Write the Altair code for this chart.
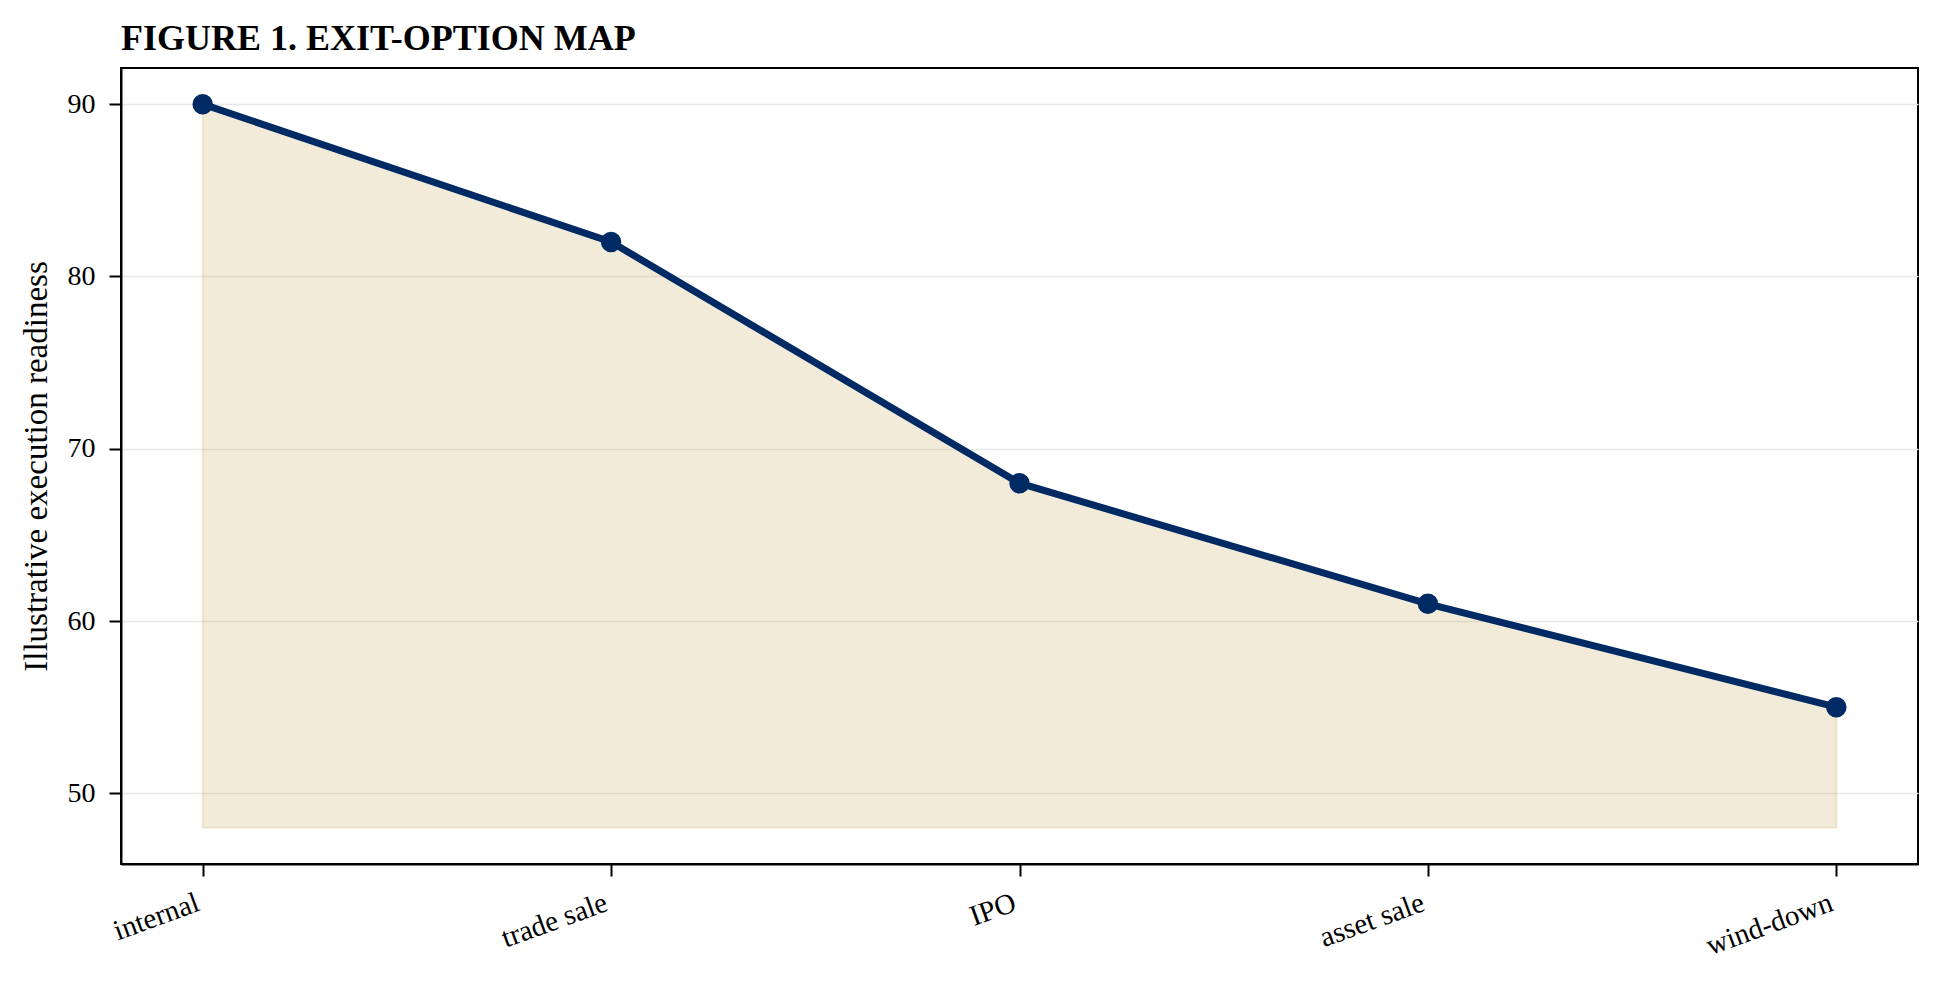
import altair as alt
import pandas as pd

# exit options and their illustrative readiness scores
categories = ["internal", "trade sale", "IPO", "asset sale", "wind-down"]
readiness = [90, 82, 68, 61, 55]
floor_value = 48
y_ticks = [50, 60, 70, 80, 90]

df = pd.DataFrame({
    "option": categories,
    "readiness": readiness,
    "floor": [floor_value] * len(categories),
})

navy = "#002A64"
sand = "#C39B46"
serif = "Liberation Serif"

x_enc = alt.X(
    "option:N",
    sort=categories,
    scale=alt.Scale(type="point", padding=0.2),
    axis=alt.Axis(
        title=None,
        labelAngle=340,
        labelAlign="right",
        labelBaseline="top",
        labelPadding=12,
        labelOffset=-10,
        labelFontSize=29,
        grid=False,
    ),
)
y_enc = alt.Y(
    "readiness:Q",
    scale=alt.Scale(domain=[45.9, 92.1], nice=False, zero=False),
    axis=alt.Axis(
        values=y_ticks,
        title="Illustrative execution readiness",
        titleFontSize=33,
        titleFontWeight="normal",
        titleAngle=270,
        titleAlign="center",
        titleBaseline="alphabetic",
        titleX=-75,
        titleY=398,
        labelPadding=14,
        grid=True,
    ),
)

base = alt.Chart(df)

# shaded band under the line
area = base.mark_area(
    color=sand, fillOpacity=0.2, stroke=sand, strokeOpacity=0.2, strokeWidth=2
).encode(x=x_enc, y=y_enc, y2="floor:Q")

line = base.mark_line(color=navy, strokeWidth=7).encode(x=x_enc, y=y_enc)

points = base.mark_circle(color=navy, size=420, opacity=1).encode(x=x_enc, y=y_enc)

chart = alt.layer(area, line, points).properties(
    width=1797,
    height=796,
    padding={"left": 113, "top": 60, "right": 8, "bottom": 100},
    autosize=alt.AutoSizeParams(type="none"),
    title=alt.Title(
        "FIGURE 1. EXIT-OPTION MAP",
        anchor="start",
        frame="group",
        font=serif,
        fontSize=36,
        fontWeight="bold",
        color="black",
        offset=10,
    ),
).configure_view(
    stroke="black", strokeWidth=2
).configure_axis(
    labelFont=serif,
    labelFontSize=28,
    labelColor="black",
    titleFont=serif,
    titleColor="black",
    domainColor="black",
    domainWidth=2,
    tickColor="black",
    tickWidth=2,
    tickSize=12,
    gridColor="#E8E8E8",
    gridWidth=1.5,
)

chart.save("out.html", embed_options={"renderer": "svg", "actions": False})
